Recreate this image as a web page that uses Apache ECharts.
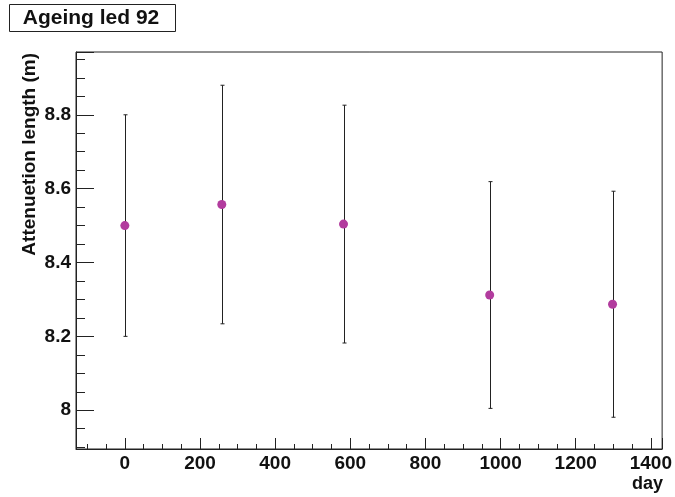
<!DOCTYPE html>
<html>
<head>
<meta charset="utf-8">
<script src="https://cdn.jsdelivr.net/npm/echarts@6/dist/echarts.min.js"></script>
<style>
html,body{margin:0;padding:0;background:#fff;}
#chart{width:675px;height:497px;}
</style>
</head>
<body>
<div id="chart"></div>
<script>
var days = [0, 258, 582, 971, 1298];
var attenuation = [8.500, 8.557, 8.504, 8.312, 8.287];
var errors = [0.300, 0.323, 0.322, 0.307, 0.306];
var titleText = 'Ageing led 92';
var yTitle = 'Attenuetion length (m)';
var xTitle = 'day';

var FONT = '"Liberation Sans", Arial, Helvetica, sans-serif';
var pts = days.map(function (d, i) { return [d, attenuation[i]]; });
var bars = days.map(function (d, i) { return [d, attenuation[i] - errors[i], attenuation[i] + errors[i]]; });

var chart = echarts.init(document.getElementById('chart'), null, {renderer: 'canvas'});
function isMult(v, step) {
  var r = v / step;
  return Math.abs(r - Math.round(r)) < 1e-6;
}
chart.setOption({
  animation: false,
  backgroundColor: '#fff',
  grid: {left: 76, right: 11, top: 52, bottom: 48, show: true, borderColor: '#222', borderWidth: 1, backgroundColor: 'transparent'},
  xAxis: {
    type: 'value', min: -130, max: 1430, splitNumber: 8,
    axisLine: {show: true, onZero: false, lineStyle: {color: '#222', width: 1}},
    axisTick: {show: true, inside: true, length: 11, lineStyle: {color: '#222'}},
    minorTick: {show: true, splitNumber: 4, length: 5, lineStyle: {color: '#222'}},
    splitLine: {show: false},
    axisLabel: {
      margin: 5, color: '#111', fontFamily: FONT, fontWeight: 'bold', fontSize: 19,
      formatter: function (v) { return isMult(v, 200) ? String(Math.round(v)) : ''; }
    }
  },
  yAxis: {
    type: 'value', min: 7.895, max: 8.97, splitNumber: 5,
    axisLine: {show: true, onZero: false, lineStyle: {color: '#222', width: 1}},
    axisTick: {show: true, inside: true, length: 18, lineStyle: {color: '#222'}},
    minorTick: {show: true, splitNumber: 4, length: 9, lineStyle: {color: '#222'}},
    splitLine: {show: false},
    axisLabel: {
      margin: 5, color: '#111', fontFamily: FONT, fontWeight: 'bold', fontSize: 19,
      formatter: function (v) { return isMult(v, 0.2) ? String(Math.round(v * 10) / 10) : ''; }
    }
  },
  graphic: [
    {type: 'rect', shape: {x: 9.5, y: 4.5, width: 166, height: 27}, style: {fill: '#fff', stroke: '#222', lineWidth: 1}},
    {type: 'text', x: 91, y: 18.5, style: {text: titleText, font: 'bold 21px ' + FONT, fill: '#111', align: 'center', verticalAlign: 'middle'}},
    {type: 'text', x: 30, y: 53, rotation: Math.PI / 2, style: {text: yTitle, font: 'bold 19px ' + FONT, fill: '#111', align: 'right', verticalAlign: 'middle'}},
    {type: 'text', x: 663, y: 484, style: {text: xTitle, font: 'bold 18px ' + FONT, fill: '#111', align: 'right', verticalAlign: 'middle'}}
  ],
  series: [
    {
      type: 'custom',
      data: bars,
      renderItem: function (params, api) {
        var top = api.coord([api.value(0), api.value(2)]);
        var bot = api.coord([api.value(0), api.value(1)]);
        var x = Math.round(top[0]) + 0.5;
        var st = {stroke: '#222', lineWidth: 1};
        return {type: 'group', children: [
          {type: 'line', shape: {x1: x, y1: top[1], x2: x, y2: bot[1]}, style: st},
          {type: 'line', shape: {x1: x - 2, y1: top[1], x2: x + 2, y2: top[1]}, style: st},
          {type: 'line', shape: {x1: x - 2, y1: bot[1], x2: x + 2, y2: bot[1]}, style: st}
        ]};
      },
      z: 2
    },
    {
      type: 'scatter', data: pts, symbol: 'circle', symbolSize: 9,
      itemStyle: {color: '#b23c9e', opacity: 1},
      z: 3
    }
  ]
});
</script>
</body>
</html>
